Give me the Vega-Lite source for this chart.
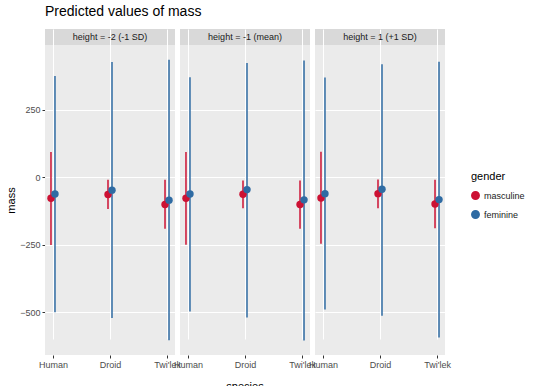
{
  "$schema": "https://vega.github.io/schema/vega-lite/v6.json",
  "title": {"text": "Predicted values of mass", "anchor": "start", "frame": "group", "fontSize": 14, "fontWeight": "normal", "color": "#000000", "offset": 10},
  "data": {"values": [
    {"height": "height = -2 (-1 SD)", "species": "Human", "gender": "masculine", "predicted": -78, "lo": -251, "hi": 93},
    {"height": "height = -2 (-1 SD)", "species": "Human", "gender": "feminine", "predicted": -62, "lo": -500, "hi": 374},
    {"height": "height = -2 (-1 SD)", "species": "Droid", "gender": "masculine", "predicted": -64, "lo": -118, "hi": -10},
    {"height": "height = -2 (-1 SD)", "species": "Droid", "gender": "feminine", "predicted": -48, "lo": -521, "hi": 426},
    {"height": "height = -2 (-1 SD)", "species": "Twi'lek", "gender": "masculine", "predicted": -101, "lo": -191, "hi": -10},
    {"height": "height = -2 (-1 SD)", "species": "Twi'lek", "gender": "feminine", "predicted": -85, "lo": -603, "hi": 434},
    {"height": "height = -1 (mean)", "species": "Human", "gender": "masculine", "predicted": -78, "lo": -250, "hi": 93},
    {"height": "height = -1 (mean)", "species": "Human", "gender": "feminine", "predicted": -62, "lo": -497, "hi": 370},
    {"height": "height = -1 (mean)", "species": "Droid", "gender": "masculine", "predicted": -63, "lo": -115, "hi": -12},
    {"height": "height = -1 (mean)", "species": "Droid", "gender": "feminine", "predicted": -46, "lo": -519, "hi": 422},
    {"height": "height = -1 (mean)", "species": "Twi'lek", "gender": "masculine", "predicted": -101, "lo": -191, "hi": -12},
    {"height": "height = -1 (mean)", "species": "Twi'lek", "gender": "feminine", "predicted": -84, "lo": -604, "hi": 432},
    {"height": "height = 1 (+1 SD)", "species": "Human", "gender": "masculine", "predicted": -77, "lo": -246, "hi": 94},
    {"height": "height = 1 (+1 SD)", "species": "Human", "gender": "feminine", "predicted": -61, "lo": -490, "hi": 369},
    {"height": "height = 1 (+1 SD)", "species": "Droid", "gender": "masculine", "predicted": -61, "lo": -115, "hi": -9},
    {"height": "height = 1 (+1 SD)", "species": "Droid", "gender": "feminine", "predicted": -45, "lo": -513, "hi": 418},
    {"height": "height = 1 (+1 SD)", "species": "Twi'lek", "gender": "masculine", "predicted": -99, "lo": -189, "hi": -10},
    {"height": "height = 1 (+1 SD)", "species": "Twi'lek", "gender": "feminine", "predicted": -83, "lo": -593, "hi": 427}
  ]},
  "facet": {
    "column": {
      "field": "height", "type": "nominal",
      "sort": ["height = -2 (-1 SD)", "height = -1 (mean)", "height = 1 (+1 SD)"],
      "header": {"labels": false, "labelPadding": 0,
                 "title": "species", "titleOrient": "bottom", "titleFontSize": 11, "titleFontWeight": "normal", "titleColor": "#000000", "titlePadding": 2}
    }
  },
  "spacing": 5,
  "spec": {
    "width": 130,
    "height": 326,
    "view": {"stroke": null, "fill": {"gradient": "linear", "x1": 0, "y1": 0, "x2": 0, "y2": 1,
      "stops": [{"offset": 0, "color": "#D9D9D9"}, {"offset": 0.049, "color": "#D9D9D9"}, {"offset": 0.049, "color": "#EBEBEB"}, {"offset": 1, "color": "#EBEBEB"}]}},
    "layer": [
      {
        "mark": {"type": "rule", "strokeWidth": 1.5, "xOffset": {"expr": "datum.gender === 'masculine' ? -2 : 2"}},
        "encoding": {
          "x": {"field": "species", "type": "nominal", "sort": ["Human", "Droid", "Twi'lek"], "scale": {"type": "point", "padding": 0.14},
                "axis": {"title": null, "labelAngle": 0}},
          "y": {"field": "lo", "type": "quantitative", "scale": {"domain": [-658, 489], "range": [326, 16], "nice": false, "zero": false},
                "axis": {"values": [-500, -250, 0, 250], "title": "mass"}},
          "y2": {"field": "hi"},
          "color": {"field": "gender", "type": "nominal", "sort": ["masculine", "feminine"],
                    "scale": {"domain": ["masculine", "feminine"], "range": ["#CC1133", "#2F6BA3"]},
                    "legend": {"title": "gender", "orient": "none", "legendX": 426, "legendY": 142}}
        }
      },
      {
        "mark": {"type": "point", "filled": true, "size": 55, "opacity": 1, "xOffset": {"expr": "datum.gender === 'masculine' ? -2 : 2"}},
        "encoding": {
          "x": {"field": "species", "type": "nominal", "sort": ["Human", "Droid", "Twi'lek"]},
          "y": {"field": "predicted", "type": "quantitative"},
          "color": {"field": "gender", "type": "nominal", "sort": ["masculine", "feminine"]}
        }
      },
      {
        "transform": [{"filter": "datum.species === 'Droid' && datum.gender === 'masculine'"}],
        "mark": {"type": "text", "fontSize": 9, "color": "#1A1A1A", "baseline": "middle", "align": "center"},
        "encoding": {
          "x": {"field": "species", "type": "nominal", "sort": ["Human", "Droid", "Twi'lek"]},
          "y": {"datum": 519, "type": "quantitative"},
          "text": {"field": "height"}
        }
      }
    ]
  },
  "config": {
    "font": "Liberation Sans",
    "axis": {"labelColor": "#4D4D4D", "labelFontSize": 9, "tickColor": "#333333", "tickSize": 3, "domain": false, "grid": true, "gridColor": "#FFFFFF", "gridWidth": 1, "titleFontSize": 11, "titleFontWeight": "normal", "titleColor": "#000000"},
    "axisY": {"titlePadding": 3},
    "legend": {"titleFontSize": 11, "titleFontWeight": "normal", "titleColor": "#000000", "titlePadding": 9, "labelFontSize": 9, "labelColor": "#1A1A1A", "symbolType": "circle", "symbolSize": 55, "rowPadding": 4}
  }
}
